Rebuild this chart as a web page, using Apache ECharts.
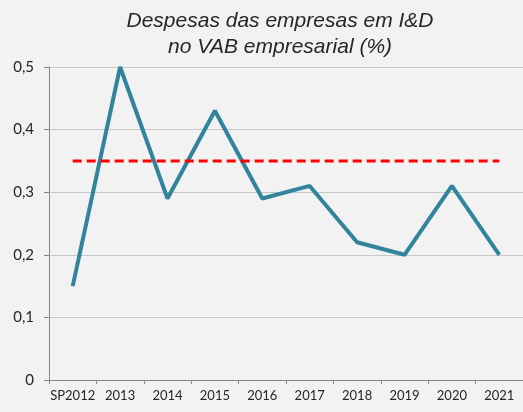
<!DOCTYPE html>
<html>
<head>
    <meta charset="utf-8">
    <title>Despesas I&D</title>
    <script src="https://cdn.jsdelivr.net/npm/echarts@6/dist/echarts.min.js"></script>
    <style>
        html, body { margin: 0; padding: 0; background: #f2f2f2; }
        #chart { width: 523px; height: 412px; }
    </style>
</head>
<body>
<div id="chart"></div>
<script type="text/javascript">
    // dados
    var anos = ['SP2012', '2013', '2014', '2015', '2016', '2017', '2018', '2019', '2020', '2021'];
    var despesas = [0.15, 0.50, 0.29, 0.43, 0.29, 0.31, 0.22, 0.20, 0.31, 0.20];
    var referencia = [0.35, 0.35, 0.35, 0.35, 0.35, 0.35, 0.35, 0.35, 0.35, 0.35];

    var myChart = echarts.init(document.getElementById('chart'));
    myChart.setOption({
        backgroundColor: '#f2f2f2',
        animation: false,
        title: {
            text: 'Despesas das empresas em I&D\nno VAB empresarial (%)',
            left: 275,
            textAlign: 'center',
            top: 3,
            textStyle: {
                fontFamily: 'Liberation Sans',
                fontStyle: 'italic',
                fontWeight: 'normal',
                fontSize: 21,
                lineHeight: 26,
                color: '#262626'
            }
        },
        grid: { left: 49, right: -3, top: 67, bottom: 32 },
        xAxis: {
            type: 'category',
            data: anos,
            boundaryGap: true,
            axisLine: { lineStyle: { color: '#868686' } },
            axisTick: { show: true, length: 4, lineStyle: { color: '#868686' } },
            axisLabel: { color: '#262626', fontFamily: 'Lato', fontSize: 13, margin: 9, interval: 0 }
        },
        yAxis: {
            type: 'value',
            min: 0,
            max: 0.5,
            interval: 0.1,
            axisLine: { show: true, lineStyle: { color: '#868686' } },
            axisTick: { show: true, length: 5, lineStyle: { color: '#868686' } },
            axisLabel: {
                color: '#262626', fontFamily: 'Lato', fontSize: 15, margin: 15,
                formatter: function (v) { return String(Math.round(v * 10) / 10).replace('.', ','); }
            },
            splitLine: { lineStyle: { color: '#c8c8c8' } }
        },
        series: [
            {
                name: 'Despesas',
                type: 'line',
                data: despesas,
                symbol: 'none',
                lineStyle: { color: '#31849b', width: 4 },
                z: 3
            },
            {
                name: 'Referência',
                type: 'line',
                data: referencia,
                symbol: 'none',
                lineStyle: { color: '#ff0000', width: 3, type: [9, 5] },
                z: 4
            }
        ]
    });
</script>
</body>
</html>
